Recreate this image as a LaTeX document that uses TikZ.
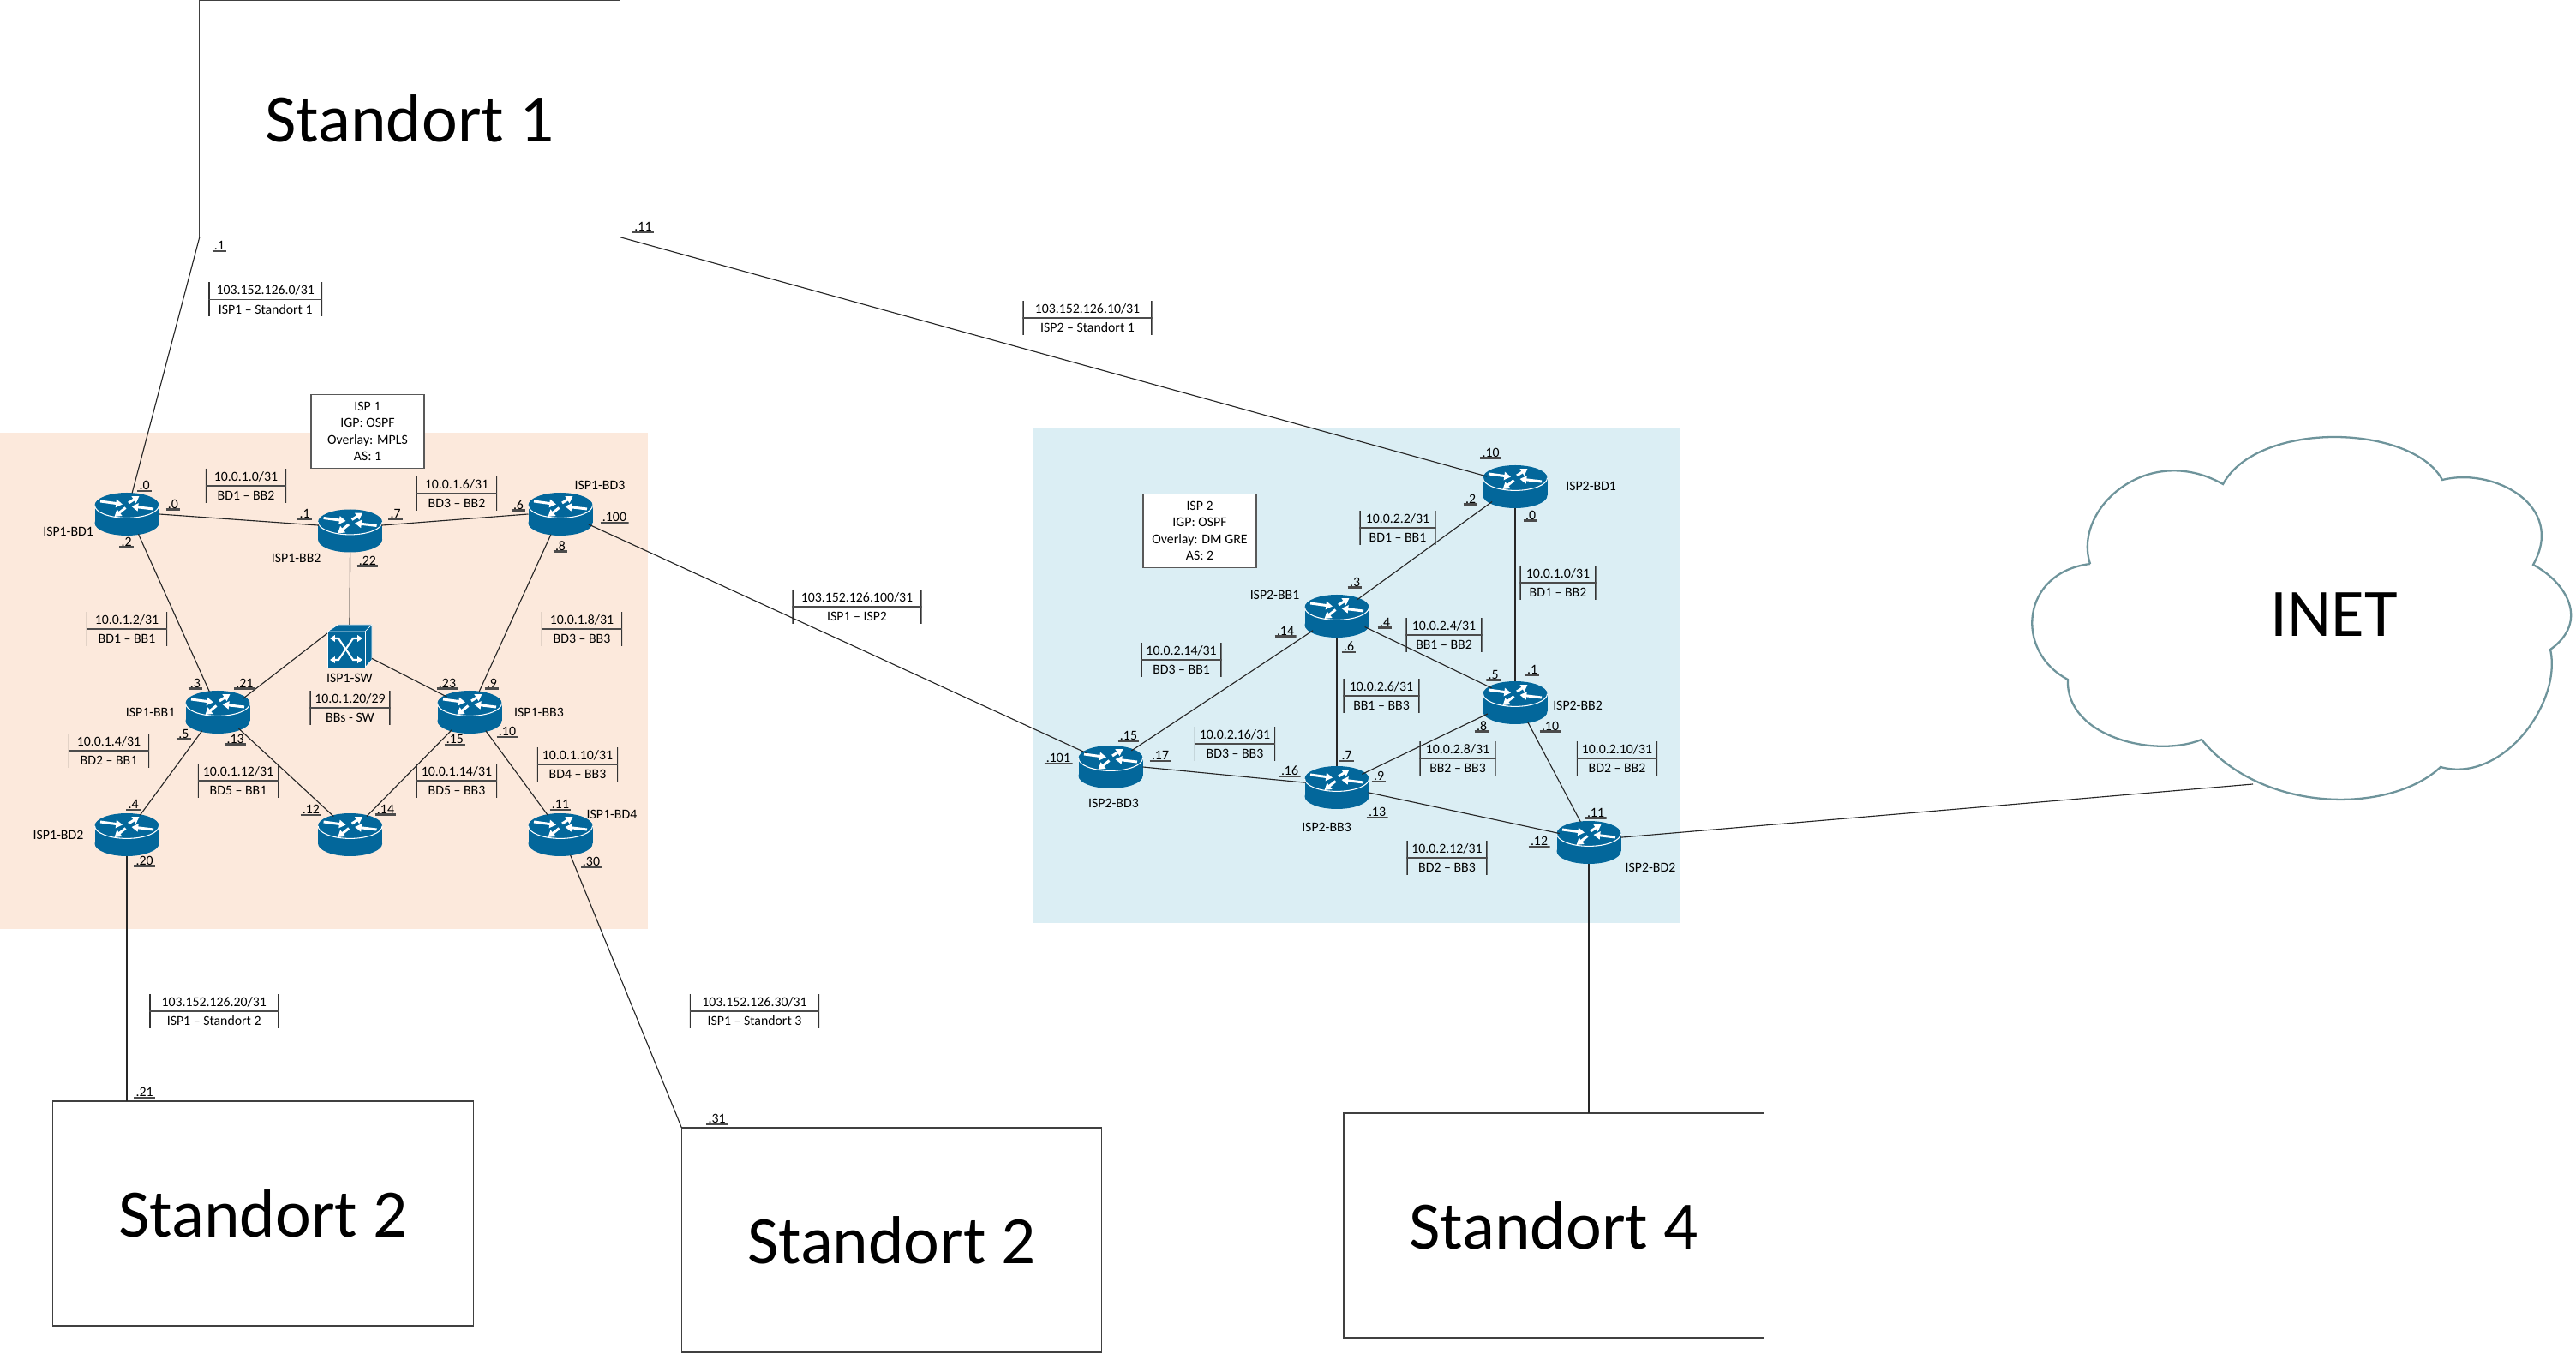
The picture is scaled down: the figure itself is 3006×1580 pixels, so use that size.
\documentclass[tikz,border=0pt]{standalone}
\usepackage{fontspec}
\setmainfont{Carlito}
\usepackage{xcolor}
\usetikzlibrary{arrows.meta,positioning,shapes.geometric}
\definecolor{routerblue}{RGB}{3,103,155}
\definecolor{ispone}{RGB}{252,233,220}
\definecolor{isptwo}{RGB}{219,238,244}
\definecolor{cloudline}{RGB}{110,148,155}
\newcommand{\tinytxt}{\fontsize{4.5}{6.3}\selectfont}
\tikzset{
    link/.style={line width=0.32pt, black!85},
    sitebox/.style={draw=black!75, line width=0.36pt, outer sep=0pt, inner sep=0pt, minimum width=4.9cm, minimum height=2.62cm, font=\fontsize{22.5}{26}\selectfont},
    infobox/.style={draw=black!65, fill=white, line width=0.5pt, align=center, inner sep=0pt, minimum width=1.32cm, minimum height=0.86cm, font=\fontsize{4.5}{5.5}\selectfont},
    devname/.style={inner sep=0pt, font=\tinytxt},
    ipaddr/.style={anchor=south, inner xsep=0.7pt, inner ysep=0pt, text height=3.4pt, text depth=0.6pt, font=\tinytxt,
        path picture={\draw[black!70, line width=1.1pt] (path picture bounding box.south west) -- (path picture bounding box.south east);}},
    subnet/.style={minimum width=0.94cm, minimum height=0.4cm, inner sep=0pt, align=center, font=\tinytxt,
        path picture={
            \draw[black!80, line width=0.8pt] (path picture bounding box.north west) -- (path picture bounding box.south west);
            \draw[black!80, line width=0.8pt] (path picture bounding box.north east) -- (path picture bounding box.south east);
            \draw[black!70, line width=0.5pt] (path picture bounding box.west) -- (path picture bounding box.east);}},
    wansubnet/.style={subnet, minimum width=1.51cm},
    router/.style={shape=ellipse, inner sep=0pt, outer sep=0pt, minimum width=0.75cm, minimum height=0.5cm},
    switchbox/.style={inner sep=0pt, outer sep=0pt, minimum width=0.52cm, minimum height=0.5cm},
    routerarrow/.style={white, line width=0.85pt, -{Triangle[width=2.6pt,length=2.2pt]}},
    switcharrow/.style={white, line width=0.6pt, {Triangle[width=2.2pt,length=1.7pt]}-{Triangle[width=2.2pt,length=1.7pt]}},
    routericon/.pic={
        \fill[routerblue] (-37.5,-10.3) rectangle (37.5,10.3);
        \fill[routerblue] (0,10.3) circle[x radius=37.5, y radius=14.7];
        \fill[routerblue] (0,-10.3) circle[x radius=37.5, y radius=14.7];
        \draw[white, line width=0.3pt] (-37.5,-10.3) .. controls (-37.5,-2.2) and (-20.7,4.4) .. (0,4.4) .. controls (20.7,4.4) and (37.5,-2.2) .. (37.5,-10.3);
        \draw[routerarrow] (-31,-15) -- (-5,-11.5);
        \draw[routerarrow] (31,-6) -- (5.5,-9);
        \draw[routerarrow] (2,-13) -- (14.5,-21);
        \draw[routerarrow] (-1.5,-7.5) -- (-14.5,3);
    },
    switchicon/.pic={
        \fill[routerblue, draw=white, line width=0.2pt] (-26,-17) -- (-13.5,-25) -- (26,-25) -- (18,-17) -- cycle;
        \fill[routerblue, draw=white, line width=0.2pt] (18,-17) -- (26,-25) -- (26,16) -- (18,25) -- cycle;
        \fill[routerblue, draw=white, line width=0.2pt] (-26,-17) rectangle (18,25);
        \draw[switcharrow] (-23,-9) -- (-13,-9) -- (4,16) -- (15,16);
        \draw[switcharrow] (15,-9) -- (4,-9) -- (-13,16) -- (-23,16);
    },
}
\newcommand{\routerat}[2]{\pic at (#2) {routericon}; \node[router] at (#2) (#1) {};}

\begin{document}
\begin{tikzpicture}[x=0.01cm,y=-0.01cm]
    \useasboundingbox (0,0) rectangle (3006,1580);
    \fill[ispone] (0,505) rectangle (756,1084);
    \fill[isptwo] (1205,499) rectangle (1960,1077);

    % sites
    \node[sitebox, minimum height=2.76cm] at (478,138.5) (st1) {Standort 1};
    \node[sitebox] at (307,1416) (st2) {Standort 2};
    \node[sitebox] at (1040.5,1447) (st3) {Standort 2};
    \node[sitebox] at (1813,1430) (st4) {Standort 4};

    % cloud
    \draw[cloudline, line width=0.65pt] (2439,658)
        .. controls (2418,595) and (2505,515) .. (2594,565)
        .. controls (2635,490) and (2815,495) .. (2850,560)
        .. controls (2910,545) and (2995,590) .. (2956,659)
        .. controls (2995,680) and (3022,725) .. (2976,758)
        .. controls (2990,820) and (2920,915) .. (2848,895)
        .. controls (2790,950) and (2640,950) .. (2569,863)
        .. controls (2515,885) and (2410,860) .. (2413,793)
        .. controls (2350,760) and (2358,668) .. (2439,658);
    \node[inner sep=0pt, font=\fontsize{22.5}{26}\selectfont] at (2724,717) (inet) {INET};
    \coordinate (inetport) at (2629,915);

    % ISP 1
    \node[infobox] at (429,503.5) (infoa) {ISP 1\\IGP: OSPF\\Overlay: MPLS\\AS: 1};
    \routerat{abd1}{148,600}
    \routerat{abb2}{408.6,619.5}
    \routerat{abd3}{654,600}
    \routerat{abb1}{254,831}
    \routerat{abb3}{548,831}
    \routerat{abd2}{148,974}
    \routerat{abd5}{408.6,974}
    \routerat{abd4}{654,974}
    \pic at (408,754) {switchicon};
    \node[switchbox] at (408,754) (asw) {};

    \node[devname] at (79.6,620) (nabd1) {ISP1-BD1};
    \node[devname] at (345.7,651) (nabb2) {ISP1-BB2};
    \node[devname] at (700,566) (nabd3) {ISP1-BD3};
    \node[devname] at (408,791) (nasw) {ISP1-SW};
    \node[devname] at (175.6,831) (nabb1) {ISP1-BB1};
    \node[devname] at (629,831) (nabb3) {ISP1-BB3};
    \node[devname] at (68,974) (nabd2) {ISP1-BD2};
    \node[devname] at (714,950) (nabd4) {ISP1-BD4};

    \draw[link] (st1.south west) -- (abd1.76);
    \draw[link] (abd1.0) -- (abb2.170);
    \draw[link] (abb2.10) -- (abd3.180);
    \draw[link] (abb2.south) -- (asw.north);
    \draw[link] (asw.150) -- (abb1.28);
    \draw[link] (asw.-29) -- (abb3.146);
    \draw[link] (abd1.-60) -- (abb1.112);
    \draw[link] (abd3.-115) -- (abb3.65);
    \draw[link] (abb1.230) -- (abd2.56);
    \draw[link] (abb1.-38) -- (abd5.132);
    \draw[link] (abb3.225) -- (abd5.48);
    \draw[link] (abb3.-49) -- (abd4.123);
    \draw[link] (abd2.south) -- (abd2.south |- st2.north);
    \draw[link] (abd4.-64) -- (st3.north west);

    \node[ipaddr] at (256,294.7) (ia1) {.1};
    \node[ipaddr] at (168.6,574.3) (ia2) {.0};
    \node[ipaddr] at (202,596) (ia3) {.0};
    \node[ipaddr] at (355.7,607) (ia4) {.1};
    \node[ipaddr] at (461.6,607) (ia5) {.7};
    \node[ipaddr] at (605,597) (ia6) {.6};
    \node[ipaddr] at (717,611.7) (ia7) {.100};
    \node[ipaddr] at (147.7,640) (ia8) {.2};
    \node[ipaddr] at (429,662) (ia9) {.22};
    \node[ipaddr] at (654,645) (ia10) {.8};
    \node[ipaddr] at (228,805) (ia11) {.3};
    \node[ipaddr] at (285.5,805) (ia12) {.21};
    \node[ipaddr] at (522,805) (ia13) {.23};
    \node[ipaddr] at (574,805) (ia14) {.9};
    \node[ipaddr] at (214.4,864) (ia15) {.5};
    \node[ipaddr] at (274.6,870) (ia16) {.13};
    \node[ipaddr] at (531,870.7) (ia17) {.15};
    \node[ipaddr] at (592,861.7) (ia18) {.10};
    \node[ipaddr] at (155.7,946.7) (ia19) {.4};
    \node[ipaddr] at (363,952.7) (ia20) {.12};
    \node[ipaddr] at (450,952) (ia21) {.14};
    \node[ipaddr] at (654,946.7) (ia22) {.11};
    \node[ipaddr] at (168.6,1012) (ia23) {.20};
    \node[ipaddr] at (690,1013) (ia24) {.30};
    \node[ipaddr] at (168.7,1282.7) (ia25) {.21};
    \node[ipaddr] at (836.7,1313) (ia26) {.31};

    \node[wansubnet, minimum width=1.33cm] at (309.7,349.5) (sa1) {103.152.126.0/31\\ISP1 -- Standort 1};
    \node[subnet] at (287,566.7) (sa2) {10.0.1.0/31\\BD1 -- BB2};
    \node[subnet] at (533,576) (sa3) {10.0.1.6/31\\BD3 -- BB2};
    \node[subnet] at (148,734) (sa4) {10.0.1.2/31\\BD1 -- BB1};
    \node[subnet] at (679,734) (sa5) {10.0.1.8/31\\BD3 -- BB3};
    \node[subnet] at (408.5,826) (sa6) {10.0.1.20/29\\BBs - SW};
    \node[subnet] at (127,875.7) (sa7) {10.0.1.4/31\\BD2 -- BB1};
    \node[subnet] at (278,911) (sa8) {10.0.1.12/31\\BD5 -- BB1};
    \node[subnet] at (533,911) (sa9) {10.0.1.14/31\\BD5 -- BB3};
    \node[subnet] at (674,892) (sa10) {10.0.1.10/31\\BD4 -- BB3};
    \node[wansubnet] at (1000,708) (sa11) {103.152.126.100/31\\ISP1 -- ISP2};
    \node[wansubnet] at (249.7,1180) (sa12) {103.152.126.20/31\\ISP1 -- Standort 2};
    \node[wansubnet] at (880.5,1180) (sa13) {103.152.126.30/31\\ISP1 -- Standort 3};

    % ISP 2
    \node[infobox] at (1400,619.5) (infob) {ISP 2\\IGP: OSPF\\Overlay: DM GRE\\AS: 2};
    \routerat{bbd1}{1768,568}
    \routerat{bbb1}{1560,719}
    \routerat{bbb2}{1768,820}
    \routerat{bbd3}{1296,895}
    \routerat{bbb3}{1560,919}
    \routerat{bbd2}{1854,983}

    \node[devname] at (1856.6,567) (nbbd1) {ISP2-BD1};
    \node[devname] at (1487.5,694) (nbbb1) {ISP2-BB1};
    \node[devname] at (1841,823) (nbbb2) {ISP2-BB2};
    \node[devname] at (1299.5,937) (nbbd3) {ISP2-BD3};
    \node[devname] at (1548,965) (nbbb3) {ISP2-BB3};
    \node[devname] at (1926,1012) (nbbd2) {ISP2-BD2};

    \draw[link] (st1.south east) -- (bbd1.160);
    \draw[link] (abd3.-20) -- (bbd3.150);
    \draw[link] (bbd1.south) -- (bbb2.north);
    \draw[link] (bbd1.213) -- (bbb1.39);
    \draw[link] (bbb1.-21) -- (bbb2.148);
    \draw[link] (bbb1.south) -- (bbb3.north);
    \draw[link] (bbb1.211) -- (bbd3.38);
    \draw[link] (bbd3.0) -- (bbb3.171);
    \draw[link] (bbb3.28) -- (bbb2.202);
    \draw[link] (bbb2.-57) -- (bbd2.112);
    \draw[link] (bbb3.-9) -- (bbd2.163);
    \draw[link] (bbd2.south) -- (bbd2.south |- st4.north);
    \draw[link] (bbd2.9) -- (inetport);

    \node[ipaddr] at (750.5,272) (ib1) {.11};
    \node[ipaddr] at (1739.7,536) (ib2) {.10};
    \node[ipaddr] at (1716,590) (ib3) {.2};
    \node[ipaddr] at (1786,609) (ib4) {.0};
    \node[ipaddr] at (1581,687) (ib5) {.3};
    \node[ipaddr] at (1616,734) (ib6) {.4};
    \node[ipaddr] at (1500,744) (ib7) {.14};
    \node[ipaddr] at (1574,762.7) (ib8) {.6};
    \node[ipaddr] at (1742.7,795) (ib9) {.5};
    \node[ipaddr] at (1788,789) (ib10) {.1};
    \node[ipaddr] at (1729,855) (ib11) {.8};
    \node[ipaddr] at (1809,855) (ib12) {.10};
    \node[ipaddr] at (1317,866.7) (ib13) {.15};
    \node[ipaddr] at (1354,889.7) (ib14) {.17};
    \node[ipaddr] at (1235,892.7) (ib15) {.101};
    \node[ipaddr] at (1505,907.7) (ib16) {.16};
    \node[ipaddr] at (1571.6,889.7) (ib17) {.7};
    \node[ipaddr] at (1609,913.7) (ib18) {.9};
    \node[ipaddr] at (1607,955.7) (ib19) {.13};
    \node[ipaddr] at (1862,956) (ib20) {.11};
    \node[ipaddr] at (1796,989.7) (ib21) {.12};

    \node[wansubnet] at (1269,371) (sb1) {103.152.126.10/31\\ISP2 -- Standort 1};
    \node[subnet, minimum width=0.89cm] at (1631,616) (sb2) {10.0.2.2/31\\BD1 -- BB1};
    \node[subnet, minimum width=0.89cm] at (1818,680) (sb3) {10.0.1.0/31\\BD1 -- BB2};
    \node[subnet, minimum width=0.89cm] at (1685,741) (sb4) {10.0.2.4/31\\BB1 -- BB2};
    \node[subnet] at (1378.6,770) (sb5) {10.0.2.14/31\\BD3 -- BB1};
    \node[subnet, minimum width=0.89cm] at (1612,812) (sb6) {10.0.2.6/31\\BB1 -- BB3};
    \node[subnet] at (1441,868) (sb7) {10.0.2.16/31\\BD3 -- BB3};
    \node[subnet, minimum width=0.89cm] at (1701,885) (sb8) {10.0.2.8/31\\BB2 -- BB3};
    \node[subnet] at (1887,885) (sb9) {10.0.2.10/31\\BD2 -- BB2};
    \node[subnet] at (1688.5,1001) (sb10) {10.0.2.12/31\\BD2 -- BB3};
\end{tikzpicture}
\end{document}
